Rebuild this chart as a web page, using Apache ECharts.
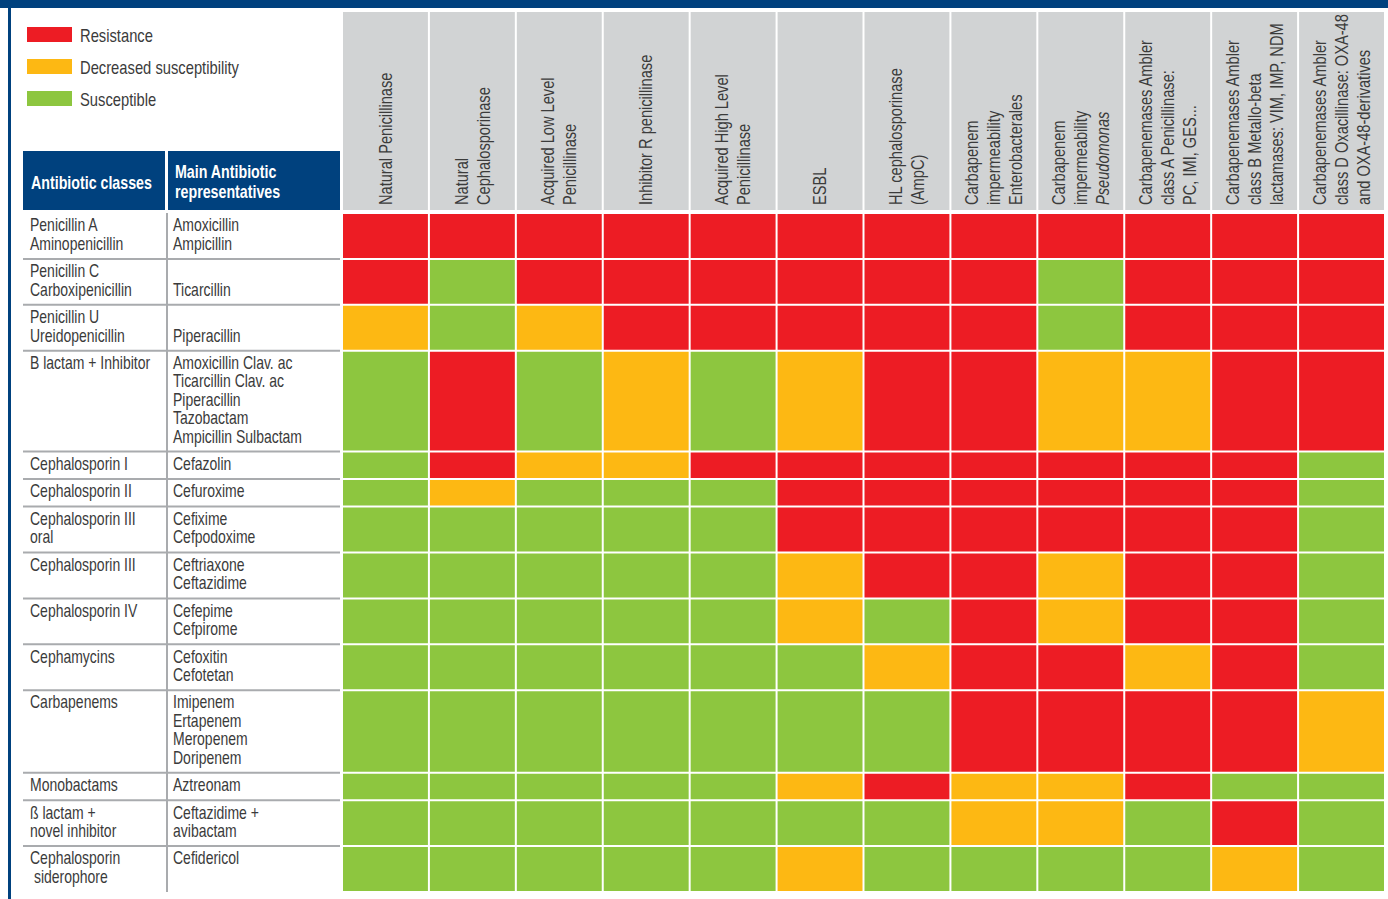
<!DOCTYPE html>
<html>
<head>
<meta charset="utf-8">
<title>Beta-lactam resistance mechanisms</title>
<script src="https://cdn.jsdelivr.net/npm/echarts@6/dist/echarts.min.js"></script>
<style>
  html, body { margin: 0; padding: 0; background: #fff; }
  #chart { width: 1388px; height: 899px; }
</style>
</head>
<body>
<div id="chart"></div>
<script>
// resistance mechanisms (column headers)
var mechanisms = [
  'Natural Penicillinase',
  'Natural\nCephalosporinase',
  'Acquired Low Level\nPenicillinase',
  'Inhibitor R penicillinase',
  'Acquired High Level\nPenicillinase',
  'ESBL',
  'HL cephalosporinase\n(AmpC)',
  'Carbapenem\nimpermeability\nEnterobacterales',
  'Carbapenem\nimpermeability\nPseudomonas',
  'Carbapenemases Ambler\nclass A Penicillinase:\nPC, IMI, GES...',
  'Carbapenemases Ambler\nclass B Metallo-beta\nlactamases: VIM, IMP, NDM',
  'Carbapenemases Ambler\nclass D Oxacillinase: OXA-48\nand OXA-48-derivatives'
];
var italicWords = ['Pseudomonas'];

var antibioticClasses = [
  'Penicillin A\nAminopenicillin',
  'Penicillin C\nCarboxipenicillin',
  'Penicillin U\nUreidopenicillin',
  'B lactam + Inhibitor',
  'Cephalosporin I',
  'Cephalosporin II',
  'Cephalosporin III\noral',
  'Cephalosporin III',
  'Cephalosporin IV',
  'Cephamycins',
  'Carbapenems',
  'Monobactams',
  'ß lactam +\nnovel inhibitor',
  'Cephalosporin\n siderophore'
];

var representatives = [
  'Amoxicillin\nAmpicillin',
  '\nTicarcillin',
  '\nPiperacillin',
  'Amoxicillin Clav. ac\nTicarcillin Clav. ac\nPiperacillin\nTazobactam\nAmpicillin Sulbactam',
  'Cefazolin',
  'Cefuroxime',
  'Cefixime\nCefpodoxime',
  'Ceftriaxone\nCeftazidime',
  'Cefepime\nCefpirome',
  'Cefoxitin\nCefotetan',
  'Imipenem\nErtapenem\nMeropenem\nDoripenem',
  'Aztreonam',
  'Ceftazidime +\navibactam',
  'Cefidericol'
];

// R = resistance, D = decreased susceptibility, S = susceptible
var susceptibility = [
  ['R','R','R','R','R','R','R','R','R','R','R','R'],
  ['R','S','R','R','R','R','R','R','S','R','R','R'],
  ['D','S','D','R','R','R','R','R','S','R','R','R'],
  ['S','R','S','D','S','D','R','R','D','D','R','R'],
  ['S','R','D','D','R','R','R','R','R','R','R','S'],
  ['S','D','S','S','S','R','R','R','R','R','R','S'],
  ['S','S','S','S','S','R','R','R','R','R','R','S'],
  ['S','S','S','S','S','D','R','R','D','R','R','S'],
  ['S','S','S','S','S','D','S','R','D','R','R','S'],
  ['S','S','S','S','S','S','D','R','R','D','R','S'],
  ['S','S','S','S','S','S','S','R','R','R','R','D'],
  ['S','S','S','S','S','D','R','D','D','R','S','S'],
  ['S','S','S','S','S','S','S','D','D','S','R','S'],
  ['S','S','S','S','S','D','S','S','S','S','D','S']
];

var statusKeys = ['R', 'D', 'S'];
var statusNames = ['Resistance', 'Decreased susceptibility', 'Susceptible'];
var statusColors = ['#ed1c24', '#fdb813', '#8dc63f'];

// the original uses a condensed face; squeeze a regular one horizontally
var FONT = 'Liberation Sans';
var SQUEEZE = 0.8;
var TEXT = '#3b3b3b';
var BLUE = '#00417e';

// row heights follow the number of text lines in the left table
var rowStart = [], rowEnd = [];
var total = 0;
for (var r = 0; r < antibioticClasses.length; r++) {
  var lines = Math.max(antibioticClasses[r].split('\n').length, representatives[r].split('\n').length);
  rowStart.push(total);
  total += lines + 0.5;
  rowEnd.push(total);
}

var cellSeries = statusKeys.map(function (key, si) {
  var data = [];
  susceptibility.forEach(function (row, ri) {
    row.forEach(function (v, ci) {
      if (v === key) data.push([ci, rowStart[ri], rowEnd[ri], ri]);
    });
  });
  return {
    name: statusNames[si],
    type: 'custom',
    xAxisIndex: 0,
    yAxisIndex: 0,
    itemStyle: { color: statusColors[si] },
    encode: { x: 0, y: [1, 2] },
    renderItem: function (params, api) {
      var p0 = api.coord([api.value(0), api.value(1)]);
      var p1 = api.coord([api.value(0), api.value(2)]);
      var w = api.size([1, 0])[0];
      return {
        type: 'rect',
        shape: { x: p0[0] - w / 2 + 1, y: p0[1] + 1, width: w - 2, height: p1[1] - p0[1] - 2 },
        style: api.style()
      };
    },
    data: data
  };
});

function headerText(t) {
  italicWords.forEach(function (w) { t = t.replace(w, '{i|' + w + '}'); });
  return t;
}

var headerSeries = {
  type: 'custom',
  xAxisIndex: 1,
  yAxisIndex: 1,
  silent: true,
  renderItem: function (params, api) {
    var bottom = api.coord([api.value(0), 0]);
    var top = api.coord([api.value(0), 1]);
    var w = api.size([1, 0])[0];
    return {
      type: 'group',
      children: [{
        type: 'rect',
        shape: { x: bottom[0] - w / 2 + 1, y: top[1], width: w - 2, height: bottom[1] - top[1] },
        style: { fill: '#d1d3d4' }
      }, {
        type: 'text',
        x: bottom[0],
        y: bottom[1] - 5,
        rotation: Math.PI / 2,
        scaleX: 0.77,
        style: {
          text: headerText(mechanisms[params.dataIndex]),
          align: 'left',
          verticalAlign: 'middle',
          fontFamily: FONT,
          fontSize: 19,
          lineHeight: 22,
          fill: TEXT,
          rich: { i: { fontFamily: FONT, fontSize: 19, lineHeight: 22, fontStyle: 'italic', fill: TEXT } }
        }
      }]
    };
  },
  data: mechanisms.map(function (m, i) { return [i]; })
};

var tableSeries = {
  type: 'custom',
  xAxisIndex: 0,
  yAxisIndex: 0,
  silent: true,
  renderItem: function (params, api) {
    var i = params.dataIndex;
    var y0 = api.coord([0, api.value(1)])[1];
    var y1 = api.coord([0, api.value(2)])[1];
    var txt = { fontFamily: FONT, fontSize: 17.5, lineHeight: 18.5, fill: TEXT, verticalAlign: 'top' };
    var children = [{
      type: 'line',
      shape: { x1: 167, y1: y0, x2: 167, y2: y1 },
      style: { stroke: '#a9abae', lineWidth: 2 }
    }, {
      type: 'text', x: 30, y: y0 + 3, scaleX: SQUEEZE,
      style: echarts.util.extend({ text: antibioticClasses[i] }, txt)
    }, {
      type: 'text', x: 173, y: y0 + 3, scaleX: SQUEEZE,
      style: echarts.util.extend({ text: representatives[i] }, txt)
    }];
    if (i < antibioticClasses.length - 1) {
      children.push({
        type: 'line',
        shape: { x1: 23, y1: y1, x2: 340, y2: y1 },
        style: { stroke: '#a9abae', lineWidth: 2 }
      });
    }
    return { type: 'group', children: children };
  },
  data: antibioticClasses.map(function (c, i) { return [0, rowStart[i], rowEnd[i]]; })
};

// legend drawn as graphic so its text can use the same condensed look
var legendGraphic = [];
statusNames.forEach(function (name, i) {
  legendGraphic.push({
    type: 'rect', shape: { x: 27, y: 27 + i * 32, width: 45, height: 15 },
    style: { fill: statusColors[i] }
  });
  legendGraphic.push({
    type: 'text', x: 80, y: 35 + i * 32, scaleX: 0.82,
    style: { text: name, fontFamily: FONT, fontSize: 18, fill: TEXT, verticalAlign: 'middle' }
  });
});

var myChart = echarts.init(document.getElementById('chart'), null, { renderer: 'svg' });

var option = {
  animation: false,
  grid: [
    { left: 342, top: 213, width: 1043, height: 679 },
    { left: 342, top: 12, width: 1043, height: 198 }
  ],
  xAxis: [
    { type: 'category', gridIndex: 0, data: mechanisms, show: false },
    { type: 'category', gridIndex: 1, data: mechanisms, show: false }
  ],
  yAxis: [
    { type: 'value', gridIndex: 0, inverse: true, min: 0, max: total, show: false },
    { type: 'value', gridIndex: 1, min: 0, max: 1, show: false }
  ],
  graphic: [
    { type: 'rect', shape: { x: 0, y: 0, width: 1388, height: 8 }, style: { fill: BLUE } },
    { type: 'rect', shape: { x: 8, y: 0, width: 3, height: 899 }, style: { fill: BLUE } },
    { type: 'rect', shape: { x: 23, y: 151, width: 142, height: 59 }, style: { fill: BLUE } },
    { type: 'rect', shape: { x: 168, y: 151, width: 172, height: 59 }, style: { fill: BLUE } },
    {
      type: 'text', x: 31, y: 182, scaleX: 0.79,
      style: { text: 'Antibiotic classes', fontFamily: FONT, fontSize: 18, fontWeight: 'bold', fill: '#fff', verticalAlign: 'middle' }
    },
    {
      type: 'text', x: 175, y: 181, scaleX: 0.79,
      style: { text: 'Main Antibiotic\nrepresentatives', fontFamily: FONT, fontSize: 18, lineHeight: 20, fontWeight: 'bold', fill: '#fff', verticalAlign: 'middle' }
    }
  ].concat(legendGraphic),
  series: cellSeries.concat([headerSeries, tableSeries])
};

myChart.setOption(option);
</script>
</body>
</html>
